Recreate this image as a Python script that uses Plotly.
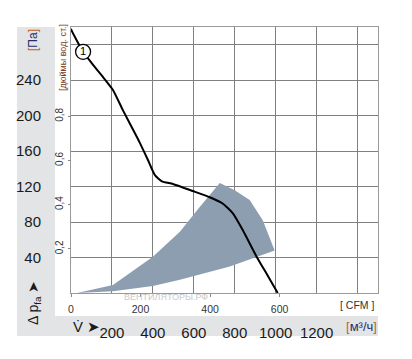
import plotly.graph_objects as go

# ---- data ----
curve_flow = [0, 5, 59, 102, 155, 205, 254, 322, 337, 376, 410, 444, 498, 595, 678, 741, 790, 839, 907, 960, 1010]
curve_pa = [298, 295, 272, 259, 244, 229, 206, 176, 169, 150, 133, 126, 123, 115, 108, 101, 90, 71, 41, 20, 0]

area_flow = [30, 205, 400, 532, 629, 727, 800, 873, 937, 995, 776, 532, 400, 205, 30]
area_pa = [0, 9, 41, 69, 97, 124, 116, 105, 82, 48, 30, 15, 8, 2, 0]

label_flow = [59]
label_pa = [272]
label_text = ["1"]

x_ticks = [200, 400, 600, 800, 1000, 1200]
y_ticks = [40, 80, 120, 160, 200, 240]
cfm_ticks = [0, 200, 400, 600]
inch_ticks = [0.2, 0.4, 0.6, 0.8]
inch_ticktext = ["0,2", "0,4", "0,6", "0,8"]

X_MAX = 1500
Y_MAX = 300
X_STEP = 200
Y_STEP = 40
CFM_PER_M3H = 1 / 1.699
INCH_PER_PA = 1 / 249.089

NARROW = "Liberation Sans Narrow, Arial Narrow, Liberation Sans, sans-serif"
GRID = "#808080"

fig = go.Figure()

fig.add_trace(go.Scatter(
    x=area_flow, y=area_pa, fill="toself", mode="lines",
    line=dict(width=0, color="#8d9eb1"), fillcolor="#8d9eb1",
    hoverinfo="skip", showlegend=False))

fig.add_trace(go.Scatter(
    x=curve_flow, y=curve_pa, mode="lines",
    line=dict(color="black", width=2, shape="spline", smoothing=0.5),
    showlegend=False))

fig.add_trace(go.Scatter(
    x=label_flow, y=label_pa, mode="markers+text", text=label_text,
    textposition="middle center", textfont=dict(size=11, color="black", family="Liberation Sans"),
    marker=dict(size=15, color="white", line=dict(color="black", width=1.3)),
    showlegend=False))

# invisible traces for secondary axes
fig.add_trace(go.Scatter(x=[0], y=[0], xaxis="x2", yaxis="y", mode="markers",
                         marker=dict(opacity=0), showlegend=False, hoverinfo="skip"))
fig.add_trace(go.Scatter(x=[0], y=[0], xaxis="x", yaxis="y2", mode="markers",
                         marker=dict(opacity=0), showlegend=False, hoverinfo="skip"))

# page body has an 8px default margin, so shift the plot area accordingly
fig.update_layout(
    width=412, height=359,
    margin=dict(l=63, r=42, t=19, b=74, autoexpand=False),
    paper_bgcolor="white", plot_bgcolor="white",
    xaxis=dict(range=[0, X_MAX], tickvals=x_ticks, automargin=False,
               showgrid=True, gridcolor=GRID, gridwidth=1,
               minor=dict(tick0=0, dtick=X_STEP, showgrid=True, gridcolor=GRID, gridwidth=1),
               showline=True, linecolor="#9a9a9a", linewidth=1, mirror=True,
               ticks="", ticklabelstandoff=26, zeroline=False,
               tickfont=dict(family=NARROW, size=15, color="#1a1a1a")),
    yaxis=dict(range=[0, Y_MAX], tickvals=y_ticks, automargin=False,
               showgrid=True, gridcolor=GRID, gridwidth=1,
               minor=dict(tick0=0, dtick=Y_STEP, showgrid=True, gridcolor=GRID, gridwidth=1),
               showline=True, linecolor="#9a9a9a", linewidth=1, mirror=True,
               ticks="", ticklabelstandoff=26, zeroline=False,
               tickfont=dict(family=NARROW, size=15, color="#1a1a1a")),
    xaxis2=dict(range=[0, X_MAX * CFM_PER_M3H], overlaying="x", anchor="y", side="bottom",
                tickvals=cfm_ticks, showgrid=False, zeroline=False, showline=False,
                automargin=False,
                ticks="outside", ticklen=3, tickcolor="#888",
                ticklabelstandoff=3,
                tickfont=dict(family=NARROW, size=10.5, color="#333")),
    yaxis2=dict(range=[0, Y_MAX * INCH_PER_PA], overlaying="y", anchor="free", position=0,
                side="left", tickvals=inch_ticks, ticktext=inch_ticktext,
                showgrid=False, zeroline=False, showline=False, automargin=False,
                ticks="outside", ticklen=3, tickcolor="#888", tickangle=-90,
                ticklabelstandoff=1,
                tickfont=dict(family=NARROW, size=10, color="#333")),
)

def px_x(px):
    return (px - 71) / 307.0

def px_y(py):
    return (293 - py) / 266.0

# gray L-shaped panel
panel = "#e3e4e6"
fig.add_shape(type="rect", xref="paper", yref="paper", layer="below",
              x0=px_x(17), x1=px_x(55), y0=px_y(336), y1=px_y(27),
              fillcolor=panel, line=dict(width=0))
fig.add_shape(type="rect", xref="paper", yref="paper", layer="below",
              x0=px_x(17), x1=px_x(378), y0=px_y(336), y1=px_y(316),
              fillcolor=panel, line=dict(width=0))

ann = [
    dict(text="<span style='color:#c0651f'>[</span><span style='color:#1f2f6e'>Па</span><span style='color:#c0651f'>]</span>",
         x=px_x(33), y=px_y(40), textangle=-90, font=dict(family=NARROW, size=12)),
    dict(text="[дюймы вод. ст.]", x=px_x(63), y=px_y(58), textangle=-90,
         font=dict(family=NARROW, size=9, color="#7a3b22")),
    dict(text="Δ p<sub>fa</sub> ➤", x=px_x(34), y=px_y(303), textangle=-90,
         font=dict(family=NARROW, size=14, color="#1a1a1a")),
    dict(text="V̇ ➤", x=px_x(86), y=px_y(326),
         font=dict(family=NARROW, size=15, color="#1a1a1a")),
    dict(text="<span style='color:#c0651f'>[</span><span style='color:#1f2f6e'>м³/ч</span><span style='color:#c0651f'>]</span>",
         x=px_x(361), y=px_y(326), font=dict(family=NARROW, size=13)),
    dict(text="[ CFM ]", x=px_x(357), y=px_y(305),
         font=dict(family=NARROW, size=10.5, color="#333")),
    dict(text="ВЕНТИЛЯТОРЫ.РФ", x=px_x(166), y=px_y(297),
         font=dict(family="Liberation Sans", size=9, color="#c9c9c9")),
]
for a in ann:
    fig.add_annotation(xref="paper", yref="paper", showarrow=False,
                       xanchor="center", yanchor="middle", **a)

fig.write_html("out.html")
